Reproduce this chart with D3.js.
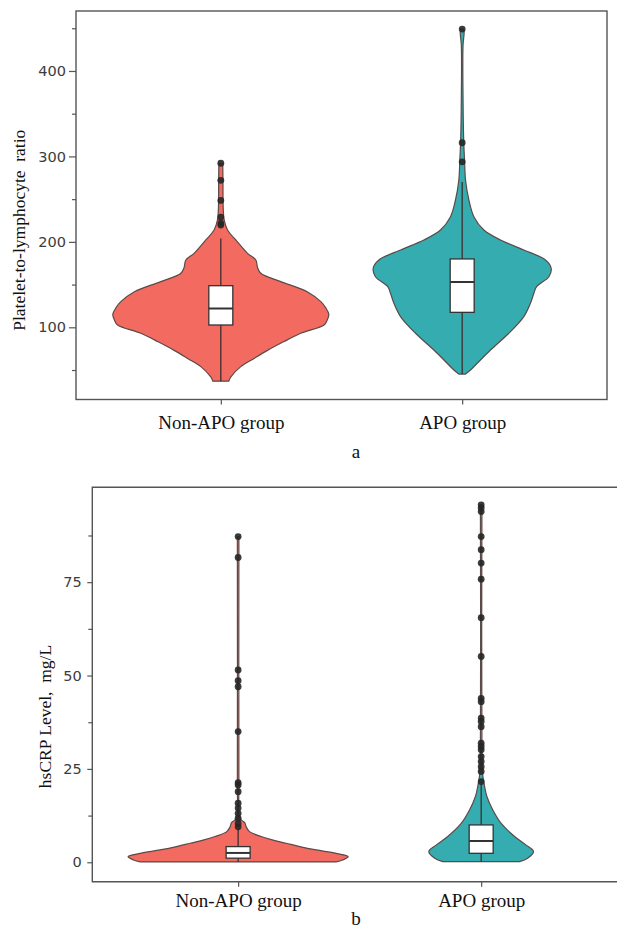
<!DOCTYPE html>
<html>
<head>
<meta charset="utf-8">
<script src="https://cdn.jsdelivr.net/npm/d3@7"></script>
<style>
  body { margin: 0; background: #fff; }
  svg { display: block; }
</style>
</head>
<body>
<svg id="chart" width="617" height="930"></svg>
<script>
// groups (x categories)
var groups = ["Non-APO group", "APO group"];

// ---- panel a : platelet-to-lymphocyte ratio ----
var plrTicks = [100, 200, 300, 400];
var plrMinorTicks = [50, 150, 250, 350, 450];
// violin outline: value levels and relative density (1 = widest violin)
var plrNonApoLevels  = [37, 42, 54, 63, 73, 83, 93, 102.7, 108.5, 115.2, 123, 130, 141.7, 153.4, 163.2, 170, 178.8, 186.6, 202.2, 213.9, 225.6, 240, 270, 292];
var plrNonApoDensity = [0.074, 0.093, 0.185, 0.3, 0.432, 0.58, 0.74, 0.956, 0.985, 1.0, 0.97, 0.926, 0.8, 0.556, 0.37, 0.34, 0.324, 0.247, 0.139, 0.062, 0.031, 0.022, 0.02, 0.018];
var plrApoLevels  = [45.3, 50, 57.9, 73.4, 93, 112.5, 128.1, 139.8, 147.5, 159.2, 169.1, 178.8, 190.5, 202.2, 213.9, 229.5, 249, 272.4, 295, 319, 366, 430, 445, 449];
var plrApoDensity = [0.031, 0.077, 0.139, 0.262, 0.432, 0.571, 0.632, 0.664, 0.689, 0.803, 0.824, 0.771, 0.571, 0.355, 0.201, 0.108, 0.062, 0.031, 0.022, 0.014, 0.008, 0.008, 0.018, 0.014];
// box: [lower whisker, q1, median, q3, upper whisker]
var plrNonApoBox = [37, 102.7, 122, 148.7, 204];
var plrApoBox    = [45.3, 117.5, 153, 180, 270];
var plrNonApoOutliers = [219.7, 222, 229, 248.5, 272, 292];
var plrApoOutliers    = [293.7, 316, 449];

// ---- panel b : hsCRP level ----
var crpTicks = [0, 25, 50, 75];
var crpMinorTicks = [12.5, 37.5, 62.5, 87.5];
var crpNonApoLevels  = [0.1, 0.6, 1.5, 2.4, 3.3, 4.2, 5.1, 6.0, 6.9, 8.2, 9.5, 10.6, 11.3, 12.2, 20, 87.2];
var crpNonApoDensity = [0.89, 0.95, 1.0, 0.89, 0.71, 0.56, 0.436, 0.31, 0.209, 0.103, 0.073, 0.06, 0.03, 0.01, 0.007, 0.007];
var crpApoLevels  = [0.16, 1.07, 2.84, 4.6, 6.9, 10.4, 14, 17.6, 20.3, 23.4, 30, 95.7];
var crpApoDensity = [0.349, 0.422, 0.476, 0.409, 0.304, 0.182, 0.106, 0.052, 0.031, 0.014, 0.007, 0.007];
var crpNonApoBox = [0.1, 1.1, 2.5, 4.2, 9];
var crpApoBox    = [0.16, 2.4, 5.7, 10, 21];
var crpNonApoOutliers = [9.5, 10.4, 11.8, 13.1, 14.5, 15.8, 18.9, 20.7, 21.3, 35, 47, 48.6, 51.5, 81.6, 87.2];
var crpApoOutliers    = [21.6, 24.3, 25.6, 27, 28.3, 30.1, 31, 31.9, 36.3, 37.7, 38.6, 43, 43.9, 55.1, 65.5, 75.8, 80.1, 83.7, 87.2, 93.9, 94.9, 95.7];

var fills = ["#f36b60", "#35adb0"];

var svg = d3.select("#chart");

function drawPanel(cfg) {
  var g = svg.append("g");

  var x = d3.scalePoint().domain(groups).range([cfg.left, cfg.right]).padding(0.6);
  var y = d3.scaleLinear().domain(cfg.yDomain).range([cfg.bottom, cfg.top]);
  var w = d3.scaleLinear().domain([0, 1]).range([0, cfg.maxHalfWidth]);

  var area = d3.area()
    .y(function(d) { return y(d.v); })
    .curve(d3.curveCatmullRom.alpha(0.5));

  cfg.series.forEach(function(s, i) {
    var cx = x(groups[i]);
    var pts = s.levels.map(function(v, j) { return { v: v, d: s.density[j] }; });

    // violin
    g.append("path")
      .datum(pts)
      .attr("d", area.x0(function(d) { return cx - w(d.d); }).x1(function(d) { return cx + w(d.d); }))
      .attr("fill", fills[i])
      .attr("stroke", "#5a4a48")
      .attr("stroke-width", 1.2);

    // whisker line
    g.append("line")
      .attr("x1", cx).attr("x2", cx)
      .attr("y1", y(s.box[0])).attr("y2", y(s.box[4]))
      .attr("stroke", "#3a3030")
      .attr("stroke-width", 1.3);

    // box
    g.append("rect")
      .attr("x", cx - 12)
      .attr("width", 24)
      .attr("y", y(s.box[3]))
      .attr("height", y(s.box[1]) - y(s.box[3]))
      .attr("fill", "#fff")
      .attr("stroke", "#333")
      .attr("stroke-width", 1.3);

    g.append("line")
      .attr("x1", cx - 12).attr("x2", cx + 12)
      .attr("y1", y(s.box[2])).attr("y2", y(s.box[2]))
      .attr("stroke", "#333")
      .attr("stroke-width", 2);

    // outliers
    g.selectAll(null).data(s.outliers).enter().append("circle")
      .attr("cx", cx)
      .attr("cy", function(d) { return y(d); })
      .attr("r", 3.4)
      .attr("fill", "#262626")
      .attr("fill-opacity", 0.9);
  });

  // frame
  if (cfg.openRight) {
    g.append("path")
      .attr("d", "M" + 617 + "," + cfg.top + "H" + cfg.left + "V" + cfg.bottom + "H" + 617)
      .attr("fill", "none").attr("stroke", "#555").attr("stroke-width", 1.4);
  } else {
    g.append("rect")
      .attr("x", cfg.left).attr("y", cfg.top)
      .attr("width", cfg.right - cfg.left).attr("height", cfg.bottom - cfg.top)
      .attr("fill", "none").attr("stroke", "#555").attr("stroke-width", 1.4);
  }

  // y axis major
  var yAxis = g.append("g")
    .attr("transform", "translate(" + cfg.left + ",0)")
    .call(d3.axisLeft(y).tickValues(cfg.ticks).tickSize(cfg.tickLen).tickPadding(cfg.tickPad));
  // y axis minor
  var yMinor = g.append("g")
    .attr("transform", "translate(" + cfg.left + ",0)")
    .call(d3.axisLeft(y).tickValues(cfg.minorTicks).tickSize(4).tickFormat(""));
  [yAxis, yMinor].forEach(function(a) {
    a.select(".domain").remove();
    a.selectAll("line").attr("stroke", "#555").attr("stroke-width", 1.2);
  });
  yAxis.selectAll("text")
    .attr("fill", "#3c3c3c")
    .style("font-family", "'DejaVu Sans', sans-serif")
    .style("font-size", "14.5px");

  // x axis
  var xAxis = g.append("g")
    .attr("transform", "translate(0," + cfg.bottom + ")")
    .call(d3.axisBottom(x).tickSize(5).tickPadding(cfg.xPad));
  xAxis.select(".domain").remove();
  xAxis.selectAll("line").attr("stroke", "#555").attr("stroke-width", 1.2);
  xAxis.selectAll("text")
    .attr("fill", "#111")
    .style("font-family", "'Liberation Serif', 'Times New Roman', serif")
    .style("font-size", "19px");

  // y title
  g.append("text")
    .attr("transform", "translate(" + cfg.titleX + "," + ((cfg.top + cfg.bottom) / 2 + cfg.titleShift) + ") rotate(-90)")
    .attr("text-anchor", "middle")
    .attr("dy", "0.35em")
    .attr("fill", "#111")
    .style("font-family", "'Liberation Serif', 'Times New Roman', serif")
    .style("font-size", "17.5px")
    .style("white-space", "pre")
    .text(cfg.title);

  // panel letter
  g.append("text")
    .attr("x", 356)
    .attr("y", cfg.letterY)
    .attr("text-anchor", "middle")
    .attr("fill", "#111")
    .style("font-family", "'Liberation Serif', 'Times New Roman', serif")
    .style("font-size", "19px")
    .text(cfg.letter);
}

drawPanel({
  left: 76, right: 607, top: 11, bottom: 399.5,
  yDomain: [15.5, 470.2],
  maxHalfWidth: 108,
  ticks: plrTicks, minorTicks: plrMinorTicks,
  tickLen: 7, tickPad: 3, xPad: 11,
  title: "Platelet-to-lymphocyte  ratio", titleX: 18.5, titleShift: 25,
  letter: "a", letterY: 458,
  series: [
    { levels: plrNonApoLevels, density: plrNonApoDensity, box: plrNonApoBox, outliers: plrNonApoOutliers },
    { levels: plrApoLevels, density: plrApoDensity, box: plrApoBox, outliers: plrApoOutliers }
  ]
});

drawPanel({
  left: 92.3, right: 627, top: 487.3, bottom: 881.7, openRight: true,
  yDomain: [-5.2, 100.4],
  maxHalfWidth: 110,
  ticks: crpTicks, minorTicks: crpMinorTicks,
  tickLen: 5, tickPad: 5.5, xPad: 6.5,
  title: "hsCRP Level,  mg/L", titleX: 44.5, titleShift: 32,
  letter: "b", letterY: 925,
  series: [
    { levels: crpNonApoLevels, density: crpNonApoDensity, box: crpNonApoBox, outliers: crpNonApoOutliers },
    { levels: crpApoLevels, density: crpApoDensity, box: crpApoBox, outliers: crpApoOutliers }
  ]
});
</script>
</body>
</html>
